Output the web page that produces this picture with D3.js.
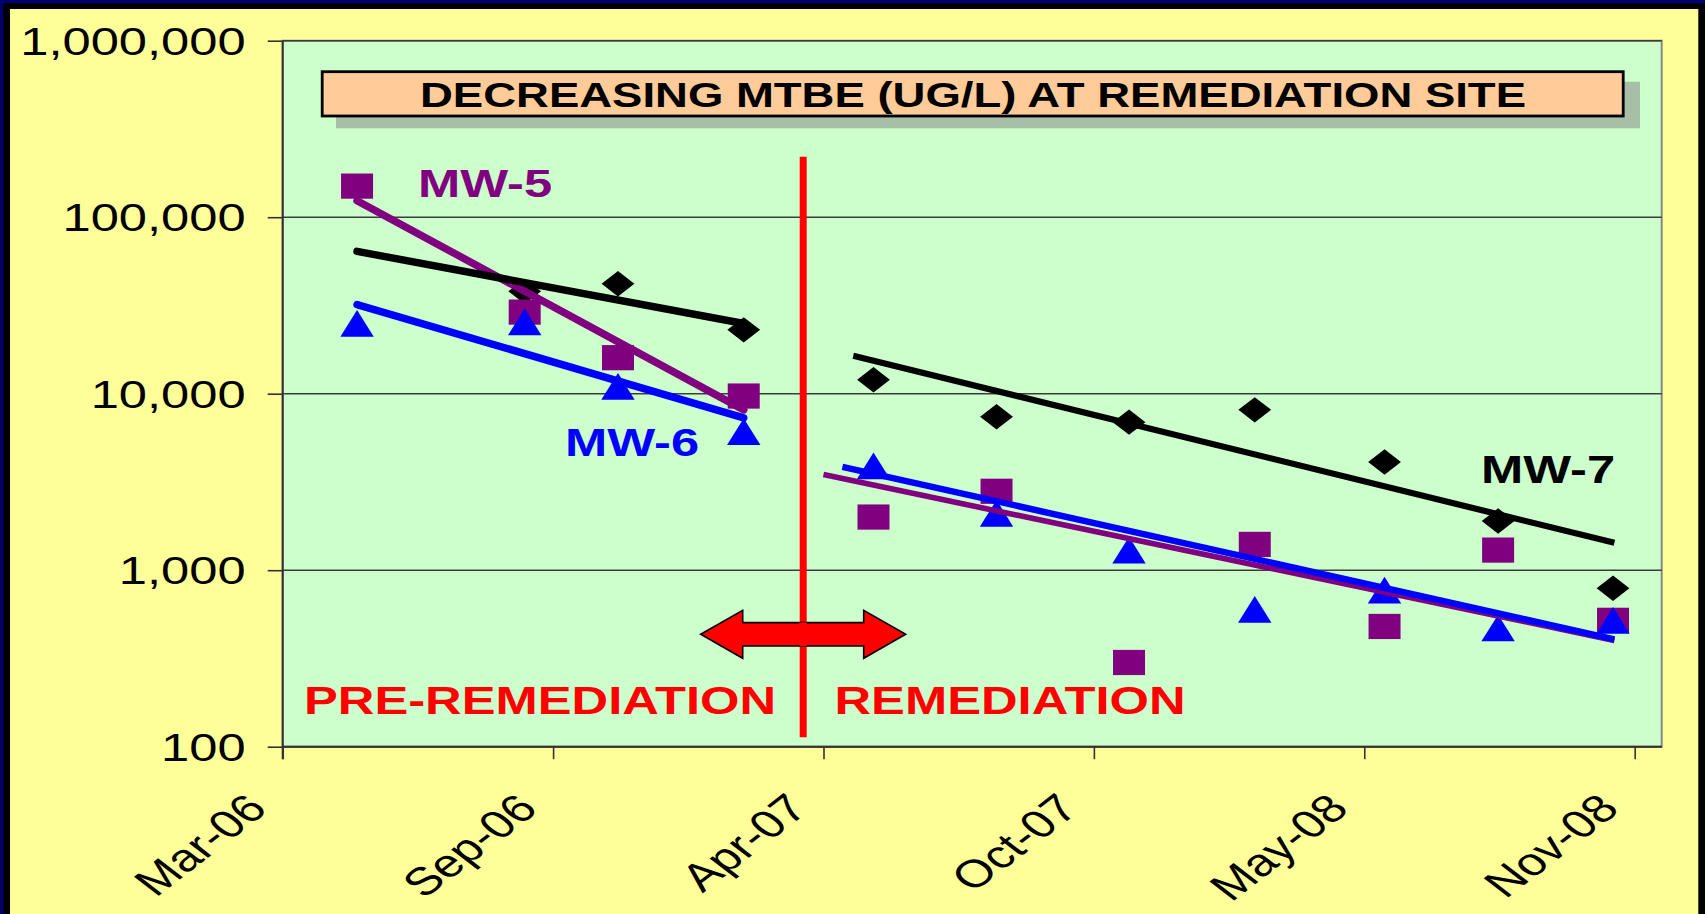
<!DOCTYPE html>
<html>
<head>
<meta charset="utf-8">
<script src="https://cdn.jsdelivr.net/npm/d3@7"></script>
<style>
  html, body { margin: 0; padding: 0; background: #000080; overflow: hidden; }
  svg { display: block; }
  text { font-family: "Liberation Sans", Arial, sans-serif; }
</style>
</head>
<body>
<div id="chart"></div>
<script>
// quarterly sampling events
var sampleDates = ["2006-04-25", "2006-08-27", "2006-11-04", "2007-02-05", "2007-05-12", "2007-08-11",
                   "2007-11-17", "2008-02-18", "2008-05-24", "2008-08-16", "2008-11-09"];

// MTBE (ug/L) per well
var mw5 = [150000, 29000, 16000, 9700, 2000, 2800, 300, 1400, 480, 1300, 520];
var mw6 = [25000, 25500, 11000, 6100, 3900, 2100, 1300, 600, 770, 470, 520];
var mw7 = [null, 38000, 42000, 23000, 12000, 7400, 6900, 8100, 4100, 1900, 790];

// trend lines, start/end
var mw5TrendPre  = [["2006-04-25", 124000], ["2007-02-05", 8100]];
var mw7TrendPre  = [["2006-04-25", 64000],  ["2007-02-05", 25000]];
var mw6TrendPre  = [["2006-04-25", 32000],  ["2007-02-05", 7300]];
var mw5TrendPost = [["2007-04-05", 3480],   ["2008-11-10", 400]];
var mw7TrendPost = [["2007-04-27", 16400],  ["2008-11-10", 1430]];
var mw6TrendPost = [["2007-04-19", 3850],   ["2008-11-10", 406]];

var remediationStart = "2007-03-21";
var dividerRange = [113, 220000];

// axes
var xDomain = ["2006-03-01", "2008-12-15"];
var xTicks = ["2006-03-01", "2006-09-17", "2007-04-05", "2007-10-22", "2008-05-09", "2008-11-25"];
var yTicks = [100, 1000, 10000, 100000, 1000000];

var title = "DECREASING MTBE (UG/L) AT REMEDIATION SITE";

var SX = 1.3; // the slide was stretched sideways, text and markers too
var W = 1705, H = 914;
var plot = {left: 282.7, right: 1661.7, top: 40.7, bottom: 746.7};

var parseDate = d3.utcParse("%Y-%m-%d");

var x = d3.scaleUtc()
    .domain(xDomain.map(parseDate))
    .range([plot.left, plot.right]);

var y = d3.scaleLog()
    .domain([100, 1000000])
    .range([plot.bottom, plot.top]);

var svg = d3.select("#chart").append("svg")
    .attr("width", W)
    .attr("height", H);

// frame
svg.append("rect").attr("width", W).attr("height", H).attr("fill", "#000070");
svg.append("rect").attr("x", 3.3).attr("y", 3.3).attr("width", W).attr("height", H).attr("fill", "#000");
svg.append("rect").attr("x", 10).attr("y", 9).attr("width", 1688.3).attr("height", H).attr("fill", "#FFFF99");

// plot area
svg.append("rect")
    .attr("x", plot.left).attr("y", plot.top)
    .attr("width", plot.right - plot.left).attr("height", plot.bottom - plot.top)
    .attr("fill", "#CCFFCC")
    .attr("stroke", "#888")
    .attr("stroke-width", 2);

// gridlines
svg.append("g").selectAll("line")
    .data(yTicks)
    .enter().append("line")
    .attr("x1", plot.left).attr("x2", plot.right)
    .attr("y1", function(d) { return y(d); })
    .attr("y2", function(d) { return y(d); })
    .attr("stroke", "#3c3c3c")
    .attr("stroke-width", 1.4);

// y axis
var yAxis = d3.axisLeft(y)
    .tickValues(yTicks)
    .tickFormat(d3.format(","))
    .tickSize(15)
    .tickSizeOuter(0);

var yG = svg.append("g")
    .attr("transform", "translate(" + plot.left + ",0)")
    .call(yAxis);
yG.select(".domain").attr("stroke", "#333").attr("stroke-width", 2)
    .attr("d", "M0," + plot.top + "V" + (plot.bottom + 12.5));
yG.selectAll(".tick line").attr("stroke", "#333").attr("stroke-width", 1.6);
yG.selectAll(".tick text")
    .attr("x", null).attr("dy", null)
    .attr("transform", "translate(-37,13.5) scale(" + SX + ",1)")
    .attr("text-anchor", "end")
    .attr("fill", "#000")
    .style("font-size", "39px")
    .style("font-family", "'Liberation Sans', Arial, sans-serif");

// x axis
var xAxis = d3.axisBottom(x)
    .tickValues(xTicks.map(parseDate))
    .tickFormat(d3.utcFormat("%b-%y"))
    .tickSize(12.5)
    .tickSizeOuter(0);

var xG = svg.append("g")
    .attr("transform", "translate(0," + plot.bottom + ")")
    .call(xAxis);
xG.select(".domain").attr("stroke", "#333").attr("stroke-width", 2)
    .attr("d", "M" + plot.left + ",0H" + plot.right);
xG.selectAll(".tick line").attr("stroke", "#333").attr("stroke-width", 1.6);
xG.selectAll(".tick text")
    .attr("y", null).attr("dy", null)
    .attr("transform", "translate(-14,64) scale(" + SX + ",1) rotate(-45)")
    .attr("text-anchor", "end")
    .attr("fill", "#000")
    .style("font-size", "39px")
    .style("font-family", "'Liberation Sans', Arial, sans-serif");

// title box
svg.append("rect")
    .attr("x", 336).attr("y", 81.7).attr("width", 1304).attr("height", 46.6)
    .attr("fill", "#A7BFA7");
svg.append("rect")
    .attr("x", 322.2).attr("y", 71.7).attr("width", 1301).attr("height", 44.3)
    .attr("fill", "#FFCC99")
    .attr("stroke", "#000")
    .attr("stroke-width", 2.8);
svg.append("text")
    .attr("transform", "translate(973,106.5) scale(" + SX + ",1)")
    .attr("text-anchor", "middle")
    .style("font-size", "35px")
    .style("font-weight", "bold")
    .text(title);

// remediation divider
var divX = x(parseDate(remediationStart));
svg.append("line")
    .attr("x1", divX).attr("x2", divX)
    .attr("y1", y(dividerRange[1])).attr("y2", y(dividerRange[0]))
    .attr("stroke", "#FF0000")
    .attr("stroke-width", 7);

// double arrow across divider
var ay = 634.3;
var arrow = [[-102.5, 0], [-60.5, -24], [-60.5, -11.7], [60.5, -11.7], [60.5, -24], [102.5, 0],
             [60.5, 24], [60.5, 11.7], [-60.5, 11.7], [-60.5, 24]];
svg.append("path")
    .attr("d", "M" + arrow.map(function(p) { return (divX + p[0]) + "," + (ay + p[1]); }).join("L") + "Z")
    .attr("fill", "#FF0000")
    .attr("stroke", "#000")
    .attr("stroke-width", 1.6);
svg.append("line")
    .attr("x1", divX).attr("x2", divX)
    .attr("y1", ay - 11.7).attr("y2", ay + 11.7)
    .attr("stroke", "#FF0000")
    .attr("stroke-width", 7);

// markers
function points(values) {
    return values.map(function(v, i) { return {date: parseDate(sampleDates[i]), value: v}; })
        .filter(function(d) { return d.value != null; });
}

var diamond = "M0,-12.7L16.4,0L0,12.7L-16.4,0Z";
var triangle = "M0,-13.4L16.7,13.3L-16.7,13.3Z";

svg.append("g").selectAll("path")
    .data(points(mw7))
    .enter().append("path")
    .attr("transform", function(d) { return "translate(" + x(d.date) + "," + y(d.value) + ")"; })
    .attr("d", diamond)
    .attr("fill", "#000");

svg.append("g").selectAll("rect")
    .data(points(mw5))
    .enter().append("rect")
    .attr("x", function(d) { return x(d.date) - 16; })
    .attr("y", function(d) { return y(d.value) - 12.6; })
    .attr("width", 32).attr("height", 25.2)
    .attr("fill", "#800080");

svg.append("g").selectAll("path")
    .data(points(mw6))
    .enter().append("path")
    .attr("transform", function(d) { return "translate(" + x(d.date) + "," + y(d.value) + ")"; })
    .attr("d", triangle)
    .attr("fill", "#0000FF");

// trend lines
var line = d3.line()
    .x(function(d) { return x(parseDate(d[0])); })
    .y(function(d) { return y(d[1]); });

function trend(data, color, width, cap) {
    svg.append("path")
        .datum(data)
        .attr("d", line)
        .attr("fill", "none")
        .attr("stroke", color)
        .attr("stroke-width", width)
        .attr("stroke-linecap", cap);
}

trend(mw5TrendPre, "#800080", 7.5, "round");
trend(mw7TrendPre, "#000", 7.5, "round");
trend(mw6TrendPre, "#0000FF", 7.5, "round");
trend(mw5TrendPost, "#800080", 5.6, "butt");
trend(mw7TrendPost, "#000", 6.2, "butt");
trend(mw6TrendPost, "#0000FF", 6.4, "butt");

// labels
function label(str, lx, ly, color) {
    svg.append("text")
        .attr("transform", "translate(" + lx + "," + ly + ") scale(" + SX + ",1)")
        .attr("fill", color)
        .style("font-size", "39px")
        .style("font-weight", "bold")
        .text(str);
}

label("MW-5", 418, 196.7, "#800080");
label("MW-6", 565, 456, "#0000FF");
label("MW-7", 1481, 483.3, "#000");
label("PRE-REMEDIATION", 304, 714, "#FF0000");
label("REMEDIATION", 834.5, 714, "#FF0000");
</script>
</body>
</html>
